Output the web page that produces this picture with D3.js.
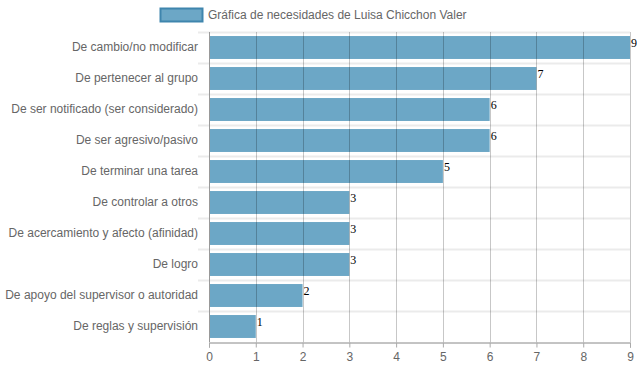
<!DOCTYPE html>
<html lang="es">
  <head>
    <meta charset="utf-8">
    <title>Necesidades</title>
    <script type="text/javascript" src="https://d3js.org/d3.v7.min.js"></script>
    <style type="text/css">
      body { margin: 0; background: #fff; }
      .axis text { font-family: "Liberation Sans", Arial, sans-serif; font-size: 12px; fill: #666; }
      .axis path, .axis line { fill: none; }
      .vlabel { font-family: "Liberation Serif", "Times New Roman", serif; font-size: 12px; fill: #000; }
    </style>
  </head>
  <body>
    <script type="text/javascript">
      var categories = ["De cambio/no modificar", "De pertenecer al grupo", "De ser notificado (ser considerado)",
        "De ser agresivo/pasivo", "De terminar una tarea", "De controlar a otros",
        "De acercamiento y afecto (afinidad)", "De logro", "De apoyo del supervisor o autoridad",
        "De reglas y supervisión"];
      var values = [9, 7, 6, 6, 5, 3, 3, 3, 2, 1];
      var xTicks = [0, 1, 2, 3, 4, 5, 6, 7, 8, 9];
      var seriesName = "Gráfica de necesidades de Luisa Chicchon Valer";

      var width = 637, height = 371,
      pLeft = 209, pRight = 630, pTop = 32, pBottom = 342;

      var svg = d3.select("body").append("svg")
      .attr("width", width)
      .attr("height", height);

      var x = d3.scaleLinear().domain([0, 9]).range([pLeft, pRight]);
      var y = d3.scaleBand().domain(categories).range([pTop, pBottom]).paddingInner(0.26).paddingOuter(0.13);
      var step = y.step();

      // horizontal light grid between rows
      var bounds = d3.range(categories.length).map(function(i) { return pTop + i * step; });
      svg.append("g").selectAll("line")
      .data(bounds)
      .enter().append("line")
      .attr("x1", pLeft - 11).attr("x2", pRight)
      .attr("y1", function(d) { return d + 0.5; }).attr("y2", function(d) { return d + 0.5; })
      .attr("stroke", "#ebebeb").attr("stroke-width", 2);

      svg.append("g").selectAll("rect")
      .data(values)
      .enter().append("rect")
      .attr("x", x(0))
      .attr("y", function(d, i) { return y(categories[i]); })
      .attr("width", function(d) { return x(d) - x(0); })
      .attr("height", y.bandwidth())
      .attr("fill", "#6ca7c6");

      // vertical grid over bars
      svg.append("g").selectAll("line")
      .data(xTicks.slice(1))
      .enter().append("line")
      .attr("x1", function(d) { return Math.round(x(d)) + 0.5; })
      .attr("x2", function(d) { return Math.round(x(d)) + 0.5; })
      .attr("y1", pTop).attr("y2", pBottom)
      .attr("stroke", "rgba(0,0,0,0.22)");

      // left axis line
      svg.append("line")
      .attr("x1", pLeft + 0.5).attr("x2", pLeft + 0.5)
      .attr("y1", pTop).attr("y2", pBottom)
      .attr("stroke", "#999");

      var xAxis = d3.axisBottom(x).tickValues(xTicks).tickSize(5).tickFormat(d3.format("d"));
      var gx = svg.append("g")
      .attr("class", "axis")
      .attr("transform", "translate(0," + (pBottom + 0.5) + ")")
      .call(xAxis);
      gx.select(".domain").attr("stroke", "#888");
      gx.selectAll(".tick line").attr("stroke", "#aaa");
      gx.selectAll("text").attr("dy", "0.9em");

      var yAxis = d3.axisLeft(y).tickSize(0).tickPadding(11);
      var gy = svg.append("g")
      .attr("class", "axis")
      .attr("transform", "translate(" + pLeft + ",0)")
      .call(yAxis);
      gy.select(".domain").remove();

      svg.append("g").selectAll("text")
      .data(values)
      .enter().append("text")
      .attr("class", "vlabel")
      .attr("x", function(d) { return x(d) + 1; })
      .attr("y", function(d, i) { return y(categories[i]) + y.bandwidth() / 2 - 5; })
      .attr("dy", "0.35em")
      .text(function(d) { return d; });

      // legend
      svg.append("rect")
      .attr("x", 160.5).attr("y", 8.5)
      .attr("width", 42).attr("height", 13)
      .attr("fill", "#6ca7c6").attr("stroke", "#3f85ad").attr("stroke-width", 2);
      svg.append("text")
      .attr("x", 208).attr("y", 15)
      .attr("dy", "0.35em")
      .style("font-family", "'Liberation Sans', Arial, sans-serif")
      .style("font-size", "12px")
      .style("fill", "#666")
      .text(seriesName);
    </script>
  </body>
</html>
